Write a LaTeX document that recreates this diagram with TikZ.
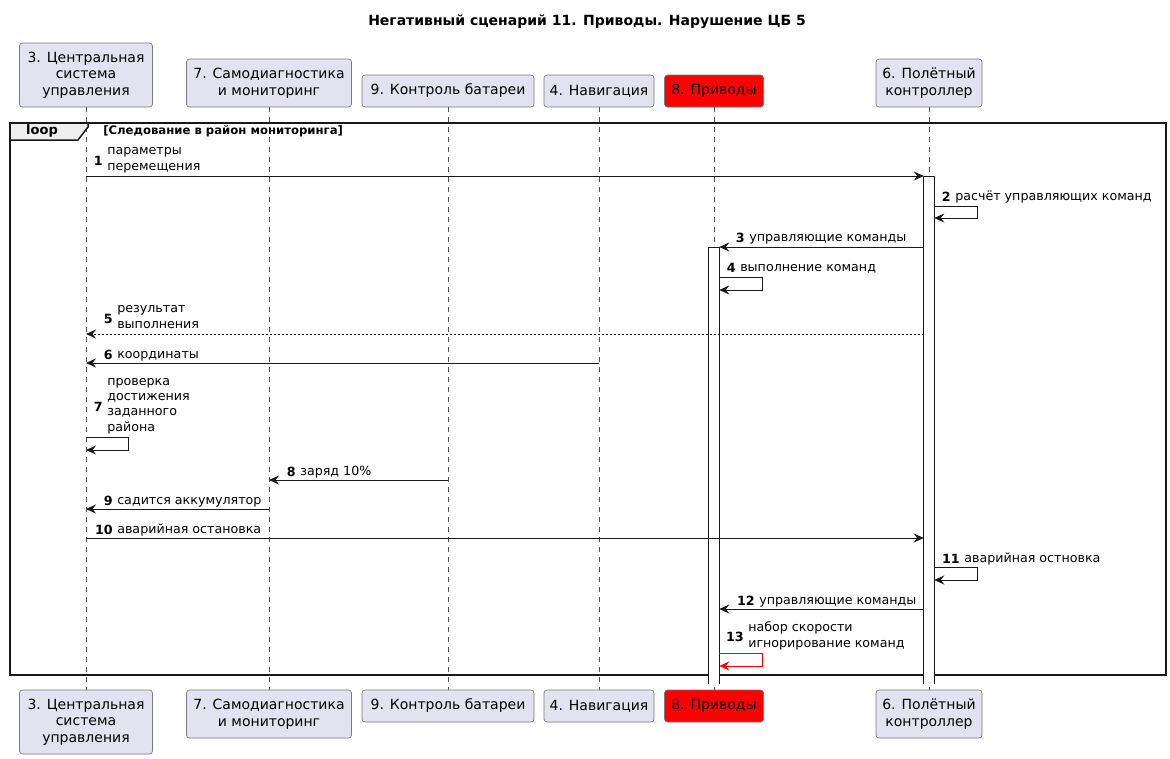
\documentclass[tikz,border=0pt]{standalone}
\usepackage{fontspec}
\setmainfont{DejaVu Sans}
\usetikzlibrary{arrows.meta}
\definecolor{pbox}{HTML}{E2E2F0}
\definecolor{ink}{HTML}{181818}
\definecolor{tabfill}{HTML}{EEEEEE}
\definecolor{pborder}{HTML}{7A7A7A}
\begin{document}
\begin{tikzpicture}[x=0.75pt,y=-0.75pt,
  part/.style={draw=pborder, fill=pbox, rounded corners=2.25pt, font=\fontsize{10.5}{12.4}\selectfont, align=center, inner sep=0pt, line width=0.5pt},
  msg/.style={draw=ink, line width=0.75pt, -{Stealth[length=7.5pt,width=6.75pt,inset=2.6pt]}},
  lbl/.style={font=\fontsize{9.5}{11.5}\selectfont, align=left, inner sep=0pt, anchor=south west},
  num/.style={font=\fontsize{9.5}{11.5}\selectfont\bfseries, inner sep=0pt, anchor=east},
  life/.style={draw=ink!75, dash pattern=on 3.75pt off 3.75pt, line width=0.5pt},
  act/.style={draw=none, fill=white, minimum width=7.5pt, inner sep=0pt, anchor=north},
  actedge/.style={draw=ink, line width=0.75pt},
  frame/.style={draw=ink, line width=1.125pt}
]
\useasboundingbox (0,0) rectangle (1170,758);

% title
\node[font=\fontsize{10.5}{12.4}\selectfont\bfseries] (title) at (587,22) {Негативный сценарий 11. Приводы. Нарушение ЦБ 5};

% participants (top)
\node[part, minimum width=99.75pt, minimum height=48pt] (p3t) at (86,75) {3. Центральная\\система\\управления};
\node[part, minimum width=123.75pt, minimum height=36pt] (p7t) at (269,83) {7. Самодиагностика\\и мониторинг};
\node[part, minimum width=129pt, minimum height=24pt] (p9t) at (448,91) {9. Контроль батареи};
\node[part, minimum width=82.5pt, minimum height=24pt] (p4t) at (599,91) {4. Навигация};
\node[part, fill=red, minimum width=74.25pt, minimum height=24pt] (p8t) at (714,91) {8. Приводы};
\node[part, minimum width=79.5pt, minimum height=36pt] (p6t) at (929,83) {6. Полётный\\контроллер};

% participants (bottom)
\node[part, minimum width=99.75pt, minimum height=48pt] (p3b) at (86,722) {3. Центральная\\система\\управления};
\node[part, minimum width=123.75pt, minimum height=36pt] (p7b) at (269,714) {7. Самодиагностика\\и мониторинг};
\node[part, minimum width=129pt, minimum height=24pt] (p9b) at (448,706) {9. Контроль батареи};
\node[part, minimum width=82.5pt, minimum height=24pt] (p4b) at (599,706) {4. Навигация};
\node[part, fill=red, minimum width=74.25pt, minimum height=24pt] (p8b) at (714,706) {8. Приводы};
\node[part, minimum width=79.5pt, minimum height=36pt] (p6b) at (929,714) {6. Полётный\\контроллер};

% lifelines
\foreach \p in {p3,p7,p9,p4,p8,p6}{
  \draw[life] (\p t.south) -- (\p b.north);
}

% loop frame
\draw[frame] (10,123) rectangle (1166,675);
\draw[frame, fill=tabfill] (10,123) -- (88,123) -- (88,127) -- (78,140) -- (10,140) -- cycle;
\node[font=\fontsize{9.75}{11.5}\selectfont\bfseries, inner sep=0pt] (looplbl) at (42,131) {loop};
\node[font=\fontsize{8.75}{10}\selectfont\bfseries, inner sep=0pt, anchor=west] (guard) at (103,131) {[Следование в район мониторинга]};

% activations (open at the bottom)
\node[act, minimum height=380.25pt] (a6) at (929,176) {};
\draw[actedge] (a6.south west) -- (a6.north west) -- (a6.north east) -- (a6.south east);
\node[act, minimum height=327pt] (a8) at (714,247) {};
\draw[actedge] (a8.south west) -- (a8.north west) -- (a8.north east) -- (a8.south east);

% 1
\draw[msg] (p3t.south |- 0,176) -- (a6.north west);
\node[lbl] (t1) at (107,175) {параметры\\перемещения\strut};
\node[num] (n1) at ([xshift=-3pt]t1.west) {1};
% 2
\draw[msg] (a6.east |- 0,206) -- (977,206) -- (977,218) -- (a6.east |- 0,218);
\node[lbl] (t2) at (955,205) {расчёт управляющих команд\strut};
\node[num] (n2) at ([xshift=-3pt]t2.west) {2};
% 3
\draw[msg] (a6.west |- 0,247) -- (a8.north east);
\node[lbl] (t3) at (749,246) {управляющие команды\strut};
\node[num] (n3) at ([xshift=-3pt]t3.west) {3};
% 4
\draw[msg] (a8.east |- 0,277) -- (762,277) -- (762,290) -- (a8.east |- 0,290);
\node[lbl] (t4) at (740,276) {выполнение команд\strut};
\node[num] (n4) at ([xshift=-3pt]t4.west) {4};
% 5
\draw[msg, dash pattern=on 1.5pt off 1.5pt] (a6.west |- 0,334) -- (p3t.south |- 0,334);
\node[lbl] (t5) at (117,333) {результат\\выполнения\strut};
\node[num] (n5) at ([xshift=-3pt]t5.west) {5};
% 6
\draw[msg] (p4t.south |- 0,363) -- (p3t.south |- 0,363);
\node[lbl] (t6) at (117,363) {координаты\strut};
\node[num] (n6) at ([xshift=-3pt]t6.west) {6};
% 7
\draw[msg] (p3t.south |- 0,437) -- (128,437) -- (128,450) -- (p3t.south |- 0,450);
\node[lbl] (t7) at (107,436) {проверка\\достижения\\заданного\\района\strut};
\node[num] (n7) at ([xshift=-3pt]t7.west) {7};
% 8
\draw[msg] (p9t.south |- 0,480) -- (p7t.south |- 0,480);
\node[lbl] (t8) at (300,480) {заряд 10\%\strut};
\node[num] (n8) at ([xshift=-3pt]t8.west) {8};
% 9
\draw[msg] (p7t.south |- 0,509) -- (p3t.south |- 0,509);
\node[lbl] (t9) at (117,509) {садится аккумулятор\strut};
\node[num] (n9) at ([xshift=-3pt]t9.west) {9};
% 10
\draw[msg] (p3t.south |- 0,538) -- (a6.west |- 0,538);
\node[lbl] (t10) at (117,538) {аварийная остановка\strut};
\node[num] (n10) at ([xshift=-3pt]t10.west) {10};
% 11
\draw[msg] (a6.east |- 0,567) -- (977,567) -- (977,580) -- (a6.east |- 0,580);
\node[lbl] (t11) at (964,567) {аварийная остновка\strut};
\node[num] (n11) at ([xshift=-3pt]t11.west) {11};
% 12
\draw[msg] (a6.west |- 0,609) -- (a8.east |- 0,609);
\node[lbl] (t12) at (759,609) {управляющие команды\strut};
\node[num] (n12) at ([xshift=-3pt]t12.west) {12};
% 13
\draw[msg, draw=red] (a8.east |- 0,653) -- (762,653) -- (762,666) -- (a8.east |- 0,666);
\node[lbl] (t13) at (748,652) {набор скорости\\игнорирование команд\strut};
\node[num] (n13) at ([xshift=-3pt]t13.west) {13};
\end{tikzpicture}
\end{document}
